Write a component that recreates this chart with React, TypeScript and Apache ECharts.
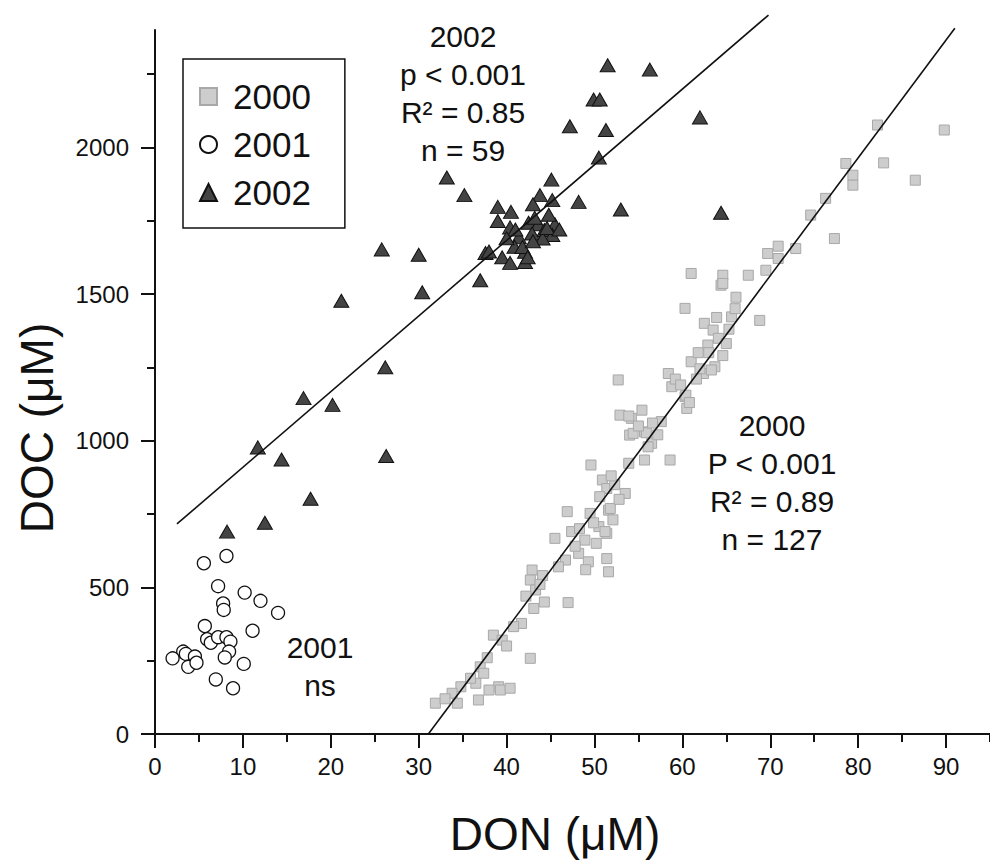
import React, { useEffect, useRef } from "react";
import * as echarts from "echarts";

// ---- Data (DON µM, DOC µM) ----
const series2000: number[][] = [
  [64.4,1530],[60.3,1451],[65.6,1422],[62.5,1400],[63.5,1377],[64.1,1349],[65.0,1331],[62.9,1326],
  [61.0,1269],[63.7,1252],[62.4,1229],[63.3,1241],[52.7,1207],[58.4,1229],[58.8,1184],[60.3,1150],
  [60.5,1110],[55.4,1104],[52.9,1087],[54.2,1076],[57.6,1065],[55.7,1030],[54.0,1019],[56.5,991],
  [55.7,934],[53.9,923],[58.6,934],[49.6,917],[50.9,866],[51.4,837],[53.5,820],[50.6,809],
  [51.6,763],[46.9,758],[49.5,752],[50.5,707],[47.4,690],[45.5,667],[48.9,661],[51.4,684],
  [48.2,616],[46.7,593],[49.3,587],[51.4,598],[51.6,553],[45.9,570],[42.9,559],[42.7,525],
  [43.3,491],[43.1,428],[47.0,448],[41.7,377],[40.8,366],[38.5,337],[42.7,258],[37.0,229],
  [37.4,207],[34.8,161],[39.1,161],[36.5,173],[33.8,139],[36.8,116],[31.9,105],[34.4,105],
  [39.3,150],
  [82.2,2076],[89.8,2059],[78.6,1945],[82.9,1947],[79.4,1905],[79.4,1871],[86.5,1888],[76.3,1826],
  [74.6,1769],[77.3,1689],[70.9,1663],[72.9,1655],[69.7,1638],[70.9,1621],[69.5,1581],[61.0,1570],
  [64.6,1564],[64.6,1536],[67.5,1564],
  [60.4,1155],[53.9,1084],[54.4,1025],[55.9,1027],[56.1,979],[51.8,769],[51.2,690],
  [68.8,1410],[66.1,1489],
  [63.0,1300],[64.6,1290],[61.8,1300],[62.0,1245],[65.3,1380],[63.9,1420],[66.0,1450],[61.6,1210],
  [49.9,720],[50.2,650],[48.3,700],[52.1,730],[49.0,560],[47.8,640],
  [52.3,850],[51.9,880],[52.8,800],
  [44.1,540],[42.2,470],[44.3,450],[43.8,510],
  [56.6,1060],[55.0,1050],[57.2,1020],
  [59.2,1210],[59.8,1190],[60.8,1130],
  [35.9,190],[38.0,150],[33.0,120],[40.4,156],[37.8,260],
  [39.5,320],[40.0,300],
];

const series2001: number[][] = [
  [8.13,607],[5.56,582],[7.18,504],[10.2,482],[12.0,454],[7.75,445],[7.82,423],[14.0,413],
  [5.67,368],[11.1,352],[5.93,323],[6.35,311],[7.18,330],[8.13,330],[8.58,315],[8.43,281],
  [7.94,261],[3.21,281],[2.0,258],[3.51,273],[4.54,264],[3.78,229],[4.72,243],[10.1,239],
  [6.92,186],[8.88,156],
];

const series2002: number[][] = [
  [8.2,690],[12.5,720],[11.7,977],[14.4,936],[17.7,802],[16.9,1145],[20.2,1122],[21.2,1477],
  [25.8,1652],[26.2,1250],[26.3,948],[30.0,1634],[30.4,1506],[33.2,1897],[35.2,1837],[37.0,1547],
  [37.6,1640],[38.0,1645],[39.5,1625],[40.4,1606],[42.1,1609],[39.0,1797],[40.5,1780],[39.0,1749],
  [40.4,1727],[42.5,1743],[43.6,1738],[45.5,1738],[44.3,1718],[45.2,1701],[42.9,1706],[44.1,1689],
  [41.4,1693],[40.9,1661],[42.1,1644],[43.8,1837],[43.0,1806],[45.2,1820],[45.1,1890],[48.2,1814],
  [47.2,2072],[49.9,2163],[50.6,2163],[50.5,1965],[51.3,2059],[51.5,2280],[56.3,2265],[62.0,2102],
  [53.0,1788],[64.4,1777],
  [41.0,1720],[43.2,1760],[44.8,1770],[41.8,1660],[43.0,1680],[44.6,1725],[42.4,1625],[40.0,1690],
  [46.0,1720],
];

const fit2002: number[][] = [[2.5, 716], [69.8, 2451]];
const fit2000: number[][] = [[31.1, 0], [91.0, 2406]];

const xMajorTicks = [0, 10, 20, 30, 40, 50, 60, 70, 80, 90];
const xMinorTicks = [5, 15, 25, 35, 45, 55, 65, 75, 85, 95];
const yMajorTicks = [0, 500, 1000, 1500, 2000];
const yMinorTicks = [250, 750, 1250, 1750, 2250];

const annot2002 = "2002\np < 0.001\nR\u00B2 = 0.85\nn = 59";
const annot2000 = "2000\nP < 0.001\nR\u00B2 = 0.89\nn = 127";
const annot2001 = "2001\nns";

const FONT = "'Liberation Sans', Arial, sans-serif";
const INK = "#111";

export default function App() {
  const ref = useRef<HTMLDivElement>(null);
  useEffect(() => {
    if (!ref.current) return;
    const chart = echarts.init(ref.current, undefined, { renderer: "svg" });
    const gridLeft = 155, gridTop = 30, gridW = 838, gridH = 704;
    const axisCommonX = {
      type: "value", min: 0, max: 95, position: "bottom",
      splitLine: { show: false },
    };
    const axisCommonY = {
      type: "value", min: 0, max: 2400, position: "left",
      splitLine: { show: false },
    };
    const plain = (v: number) => String(v);
    chart.setOption({
      animation: false,
      backgroundColor: "#fff",
      grid: { left: gridLeft, top: gridTop, width: gridW, height: gridH },
      legend: {
        data: ["2000", "2001", "2002"],
        orient: "vertical",
        left: 183, top: 59,
        padding: [20, 34, 18, 16],
        borderColor: "#111", borderWidth: 1.5,
        itemWidth: 17, itemHeight: 17, itemGap: 13,
        textStyle: { fontFamily: FONT, fontSize: 35, lineHeight: 32, color: INK, padding: [0, 0, 0, 11] },
      },
      xAxis: [
        {
          ...axisCommonX,
          axisLine: { show: true, lineStyle: { color: INK, width: 2 } },
          axisTick: { show: true, inside: false, length: 14, lineStyle: { color: INK, width: 2 }, customValues: xMajorTicks },
          axisLabel: { show: true, margin: 20, fontFamily: FONT, fontSize: 24, color: INK, customValues: xMajorTicks, formatter: plain },
        },
        {
          ...axisCommonX,
          axisLine: { show: false },
          axisTick: { show: true, inside: false, length: 8, lineStyle: { color: INK, width: 2 }, customValues: xMinorTicks },
          axisLabel: { show: false },
        },
      ],
      yAxis: [
        {
          ...axisCommonY,
          axisLine: { show: true, lineStyle: { color: INK, width: 2 } },
          axisTick: { show: true, inside: false, length: 14, lineStyle: { color: INK, width: 2 }, customValues: yMajorTicks },
          axisLabel: { show: true, margin: 26, fontFamily: FONT, fontSize: 24, color: INK, customValues: yMajorTicks, formatter: plain },
        },
        {
          ...axisCommonY,
          axisLine: { show: false },
          axisTick: { show: true, inside: false, length: 8, lineStyle: { color: INK, width: 2 }, customValues: yMinorTicks },
          axisLabel: { show: false },
        },
      ],
      series: [
        {
          name: "2000", type: "scatter", data: series2000, symbol: "rect", symbolSize: 10,
          itemStyle: { color: "#cdcdcd", borderColor: "#a8a8a8", borderWidth: 1, opacity: 1 },
        },
        {
          name: "2001", type: "scatter", data: series2001, symbol: "circle", symbolSize: 13,
          itemStyle: { color: "#ffffff", borderColor: INK, borderWidth: 1.3, opacity: 1 },
        },
        {
          name: "2002", type: "scatter", data: series2002, symbol: "triangle", symbolSize: [15, 13],
          itemStyle: { color: "#444444", borderColor: INK, borderWidth: 1, opacity: 1 },
        },
        {
          name: "fit2002", type: "line", data: fit2002, symbol: "none", clip: false,
          lineStyle: { color: INK, width: 1.6 }, z: 5,
        },
        {
          name: "fit2000", type: "line", data: fit2000, symbol: "none", clip: false,
          lineStyle: { color: INK, width: 1.6 }, z: 5,
        },
      ],
      graphic: [
        {
          type: "text", x: 555, y: 834,
          style: { text: "DON (\u03BCM)", font: `46px ${FONT}`, fill: INK, textAlign: "center", textVerticalAlign: "middle" },
        },
        {
          type: "text", x: 37, y: 428, rotation: Math.PI / 2,
          style: { text: "DOC (\u03BCM)", font: `46px ${FONT}`, fill: INK, textAlign: "center", textVerticalAlign: "middle" },
        },
        {
          type: "text", x: 463, y: 17,
          style: { text: annot2002, font: `30px ${FONT}`, lineHeight: 38, fill: INK, textAlign: "center", textVerticalAlign: "top" },
        },
        {
          type: "text", x: 772, y: 406,
          style: { text: annot2000, font: `30px ${FONT}`, lineHeight: 38, fill: INK, textAlign: "center", textVerticalAlign: "top" },
        },
        {
          type: "text", x: 320, y: 628,
          style: { text: annot2001, font: `30px ${FONT}`, lineHeight: 38, fill: INK, textAlign: "center", textVerticalAlign: "top" },
        },
      ],
    });
    return () => chart.dispose();
  }, []);
  return (
    <div
      ref={ref}
      style={{ position: "fixed", left: 0, top: 0, width: 990, height: 863, background: "#fff" }}
    />
  );
}
